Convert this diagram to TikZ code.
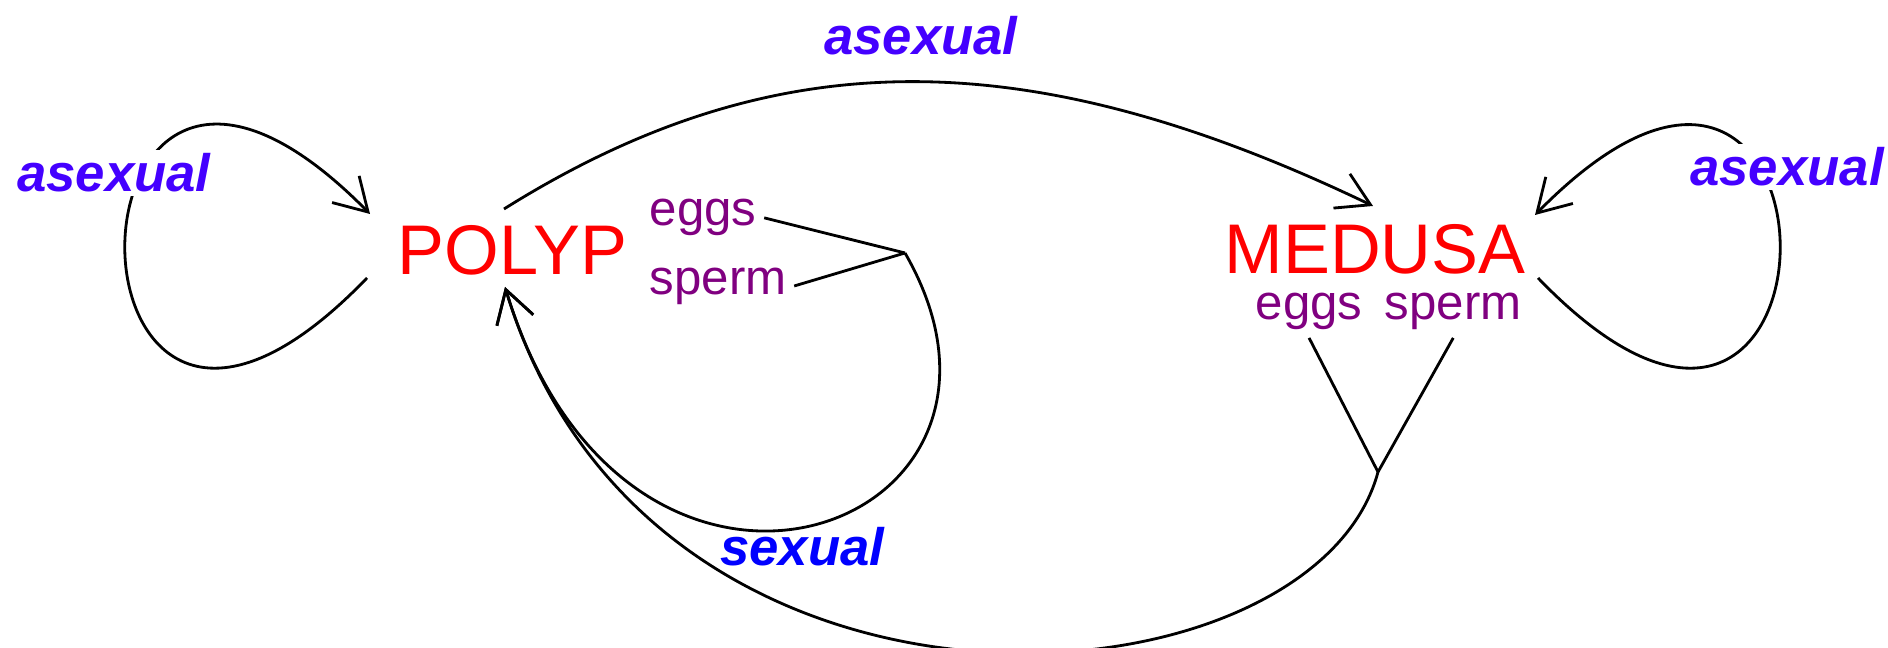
\documentclass[tikz,border=0pt]{standalone}
\usepackage{fontspec}
\setmainfont{Liberation Sans}
\usetikzlibrary{arrows.meta,positioning,calc}
\definecolor{asexblue}{RGB}{68,0,255}
\definecolor{gampurple}{RGB}{128,0,128}
\tikzset{
  stage/.style={font=\fontsize{20}{24}\selectfont, text=red, inner sep=2pt, anchor=base west},
  gam/.style={font=\fontsize{14}{17}\selectfont, text=gampurple, inner sep=2pt, anchor=base west},
  asex/.style={font=\fontsize{15}{18}\selectfont\bfseries\itshape, text=asexblue, fill=white, inner sep=1pt, anchor=base west},
  sex/.style={asex, text=blue, fill=none},
  cyc/.style={draw, line width=0.8pt, -{Straight Barb[length=3.2mm,width=3.8mm]}},
  lnk/.style={draw, line width=0.8pt}
}
\begin{document}
\begin{tikzpicture}
\useasboundingbox (0,0) rectangle (18.88,6.48);
% the two stages
\node[stage] (polyp) at (3.90,3.73) {POLYP};
\node[stage] (medusa) at (12.17,3.74) {MEDUSA};
% gametes
\node[gam] (eggsL) at (6.42,4.22) {eggs};
\node[gam, below right=0.16 and 0 of eggsL.south west] (spermL) {sperm};
\node[gam] (eggsM) at (12.48,3.28) {eggs};
\node[gam, right=0.07 of eggsM] (spermM) {sperm};

% loose ends of the curves
\coordinate (pOut) at (3.67,3.70);
\coordinate (pIn) at (3.70,4.34);
\coordinate (mOut) at (15.38,3.70);
\coordinate (mIn) at (15.35,4.33);
\coordinate (pTop) at (5.04,4.39);
\coordinate (mTop) at (13.73,4.42);
\coordinate (pBot) at (5.05,3.61);
\coordinate (jP) at (9.05,3.95);
\coordinate (jM) at (13.78,1.76);

% asexual
\draw[cyc] (pOut) .. controls +(-3.23,-3.35) and +(-3.26,3.31) .. (pIn);
\draw[cyc] (mOut) .. controls +(3.23,-3.35) and +(3.26,3.32) .. (mIn);
\draw[cyc] (pTop) .. controls +(2.70,1.69) and +(-3.46,1.66) .. (mTop);

% sexual
\draw[lnk] (eggsL.east) -- (jP);
\draw[lnk] (spermL.east) -- (jP);
\draw[cyc] (jP) .. controls +(1.6,-2.78) and +(1.22,-4.03) .. (pBot);
\draw[lnk] (eggsM.south) -- (jM);
\draw[lnk] (spermM.south) -- (jM);
\draw[cyc] (jM) .. controls +(-0.65,-2.43) and +(1.45,-4.80) .. (pBot);

\node[asex] (asexL) at (0.13,4.56) {asexual};
\node[asex] (asexT) at (8.20,5.93) {asexual};
\node[asex] (asexR) at (16.86,4.62) {asexual};
\node[sex] (sexL) at (7.16,0.82) {sexual};
\end{tikzpicture}
\end{document}
